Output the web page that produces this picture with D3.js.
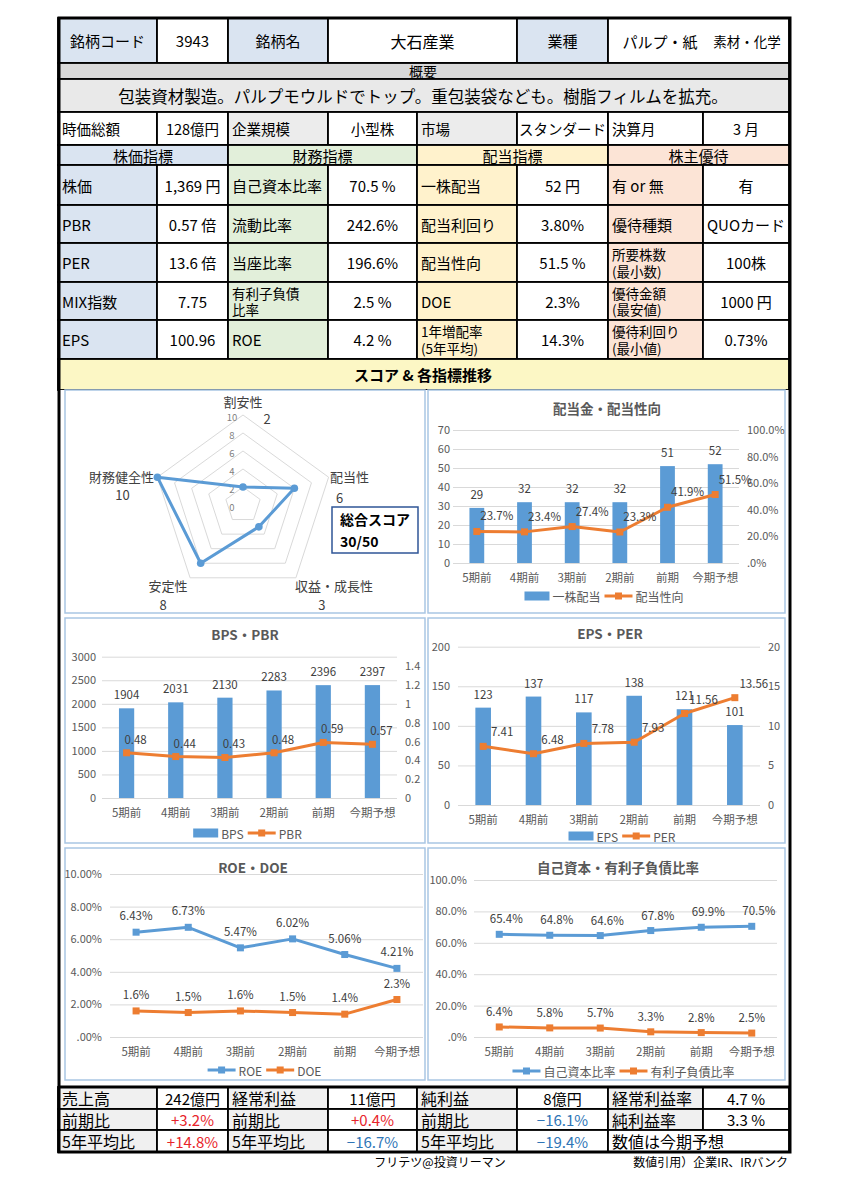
<!DOCTYPE html>
<html><head><meta charset="utf-8">
<script src="https://cdn.jsdelivr.net/npm/d3@7"></script>
<style>body{margin:0;background:#fff;} svg{display:block;font-family:"Noto Sans CJK JP","Noto Sans",sans-serif;}</style>
</head><body><svg id="c" width="861" height="1200"></svg>
<script>
// ---------------- DATA ----------------
const categories = ["5期前","4期前","3期前","2期前","前期","今期予想"];
const dividends = [29,32,32,32,51,52];
const payoutRatio = [0.237,0.234,0.274,0.233,0.419,0.515];
const bps = [1904,2031,2130,2283,2396,2397];
const pbr = [0.48,0.44,0.43,0.48,0.59,0.57];
const eps = [123,137,117,138,121,101];
const per = [7.41,6.48,7.78,7.93,11.56,13.56];
const roe = [6.43,6.73,5.47,6.02,5.06,4.21];
const doe = [1.6,1.5,1.6,1.5,1.4,2.3];
const equityRatio = [65.4,64.8,64.6,67.8,69.9,70.5];
const debtRatio = [6.4,5.8,5.7,3.3,2.8,2.5];

const radarAxes = ["割安性","配当性","収益・成長性","安定性","財務健全性"];
const radarScores = [2,6,3,8,10];
const radarTicks = [0,2,4,6,8,10];
const totalScore = 30;
const maxScore = 50;

const divTicks = [0,10,20,30,40,50,60,70];
const payoutTicks = [0,0.2,0.4,0.6,0.8,1.0];
const bpsTicks = [0,500,1000,1500,2000,2500,3000];
const pbrTicks = [0,0.2,0.4,0.6,0.8,1.0,1.2,1.4];
const epsTicks = [0,50,100,150,200];
const perTicks = [0,5,10,15,20];
const roeTicks = [0,2,4,6,8,10];
const equityTicks = [0,20,40,60,80,100];

const headerCells = ["銘柄コード","3943","銘柄名","大石産業","業種","パルプ・紙","素材・化学"];
const summaryTitle = "概要";
const summaryText = "包装資材製造。パルプモウルドでトップ。重包装袋なども。樹脂フィルムを拡充。";
const profileRow = ["時価総額","128億円","企業規模","小型株","市場","スタンダード","決算月","3 月"];
const sectionTitles = ["株価指標","財務指標","配当指標","株主優待"];
const priceLabels = ["株価","PBR","PER","MIX指数","EPS"];
const priceValues = ["1,369 円","0.57 倍","13.6 倍","7.75","100.96"];
const finLabels = ["自己資本比率","流動比率","当座比率","有利子負債\n比率","ROE"];
const finValues = ["70.5 %","242.6%","196.6%","2.5 %","4.2 %"];
const divLabels = ["一株配当","配当利回り","配当性向","DOE","1年増配率\n(5年平均)"];
const divValues = ["52 円","3.80%","51.5 %","2.3%","14.3%"];
const perkLabels = ["有 or 無","優待種類","所要株数\n(最小数)","優待金額\n(最安値)","優待利回り\n(最小値)"];
const perkValues = ["有","QUOカード","100株","1000 円","0.73%"];
const scoreBand = "スコア & 各指標推移";
const bottomLabels = [["売上高","経常利益","純利益","経常利益率"],["前期比","前期比","前期比","純利益率"],["5年平均比","5年平均比","5年平均比","数値は今期予想"]];
const bottomValues = [["242億円","11億円","8億円","4.7 %"],["+3.2%","+0.4%","−16.1%","3.3 %"],["+14.8%","−16.7%","−19.4%",""]];
const footerLeft = "フリテツ@投資リーマン";
const footerRight = "数値引用）企業IR、IRバンク";

// ---------------- DRAW ----------------
const FONT = '"Noto Sans CJK JP","Noto Sans",sans-serif';
const BLUE_BG="#dae4f1", GREEN_BG="#e2efda", YELLOW_BG="#fff2cc", PINK_BG="#fce4d6", GRAY_BG="#ececec";
const C_BLUE="#5b9bd5", C_ORANGE="#ed7d31";
const svg = d3.select("#c");
svg.append("rect").attr("width",861).attr("height",1200).attr("fill","#fff");

const COLS = [58,157,228,328,417,517,608,703,789];

function cell(x0,x1,y0,y1,o={}){
  const g = svg.append("g");
  g.append("rect").attr("x",x0).attr("y",y0).attr("width",x1-x0).attr("height",y1-y0)
    .attr("fill",o.fill||"#fff").attr("stroke","#000").attr("stroke-width",1.8);
  if(o.text===undefined||o.text==="") return g;
  const lines = String(o.text).split("\n");
  const size = o.size||15, lh = o.lh||15;
  const anchor = o.anchor||"middle";
  const tx = anchor==="start" ? x0+4 : (x0+x1)/2;
  const cy = (y0+y1)/2;
  lines.forEach((ln,i)=>{
    g.append("text").attr("text-anchor",anchor).attr("font-size",size)
      .attr("font-weight",o.weight||"normal").attr("fill",o.color||"#000").attr("font-family",FONT)
      .attr("x",o.tx!==undefined?o.tx:tx).attr("y",cy+(i-(lines.length-1)/2)*lh).attr("dominant-baseline","central").text(ln);
  });
  return g;
}

// header row
cell(COLS[0],COLS[1],18,63,{fill:BLUE_BG,text:headerCells[0]});
cell(COLS[1],COLS[2],18,63,{text:headerCells[1]});
cell(COLS[2],COLS[3],18,63,{fill:BLUE_BG,text:headerCells[2]});
cell(COLS[3],COLS[5],18,63,{text:headerCells[3],size:16});
cell(COLS[5],COLS[6],18,63,{fill:BLUE_BG,text:headerCells[4]});
cell(COLS[6],COLS[8],18,63,{});
svg.append("text").attr("x",660).attr("y",41).attr("dominant-baseline","central").attr("text-anchor","middle").attr("font-size",15).text(headerCells[5]);
svg.append("text").attr("x",747).attr("y",41).attr("dominant-baseline","central").attr("text-anchor","middle").attr("font-size",13.5).text(headerCells[6]);

cell(COLS[0],COLS[8],63,79,{fill:"#d9d9d9",text:summaryTitle,size:14,tx:423});
cell(COLS[0],COLS[8],79,112,{fill:"#e9e9e9",text:summaryText,size:16.5,tx:423});

// profile row
const profFills=["#fff","#fff",GRAY_BG,"#fff",GRAY_BG,"#fff","#fff","#fff"];
profileRow.forEach((t,i)=>{
  cell(COLS[i],COLS[i+1],112,145,{fill:profFills[i],text:t,anchor:i%2===0?"start":"middle",size:14.5});
});

// section headers
const secFills=[BLUE_BG,GREEN_BG,YELLOW_BG,PINK_BG];
sectionTitles.forEach((t,i)=>cell(COLS[i*2],COLS[i*2+2],145,165,{fill:secFills[i],text:t,size:15}));

// indicator rows
const ROWS=[165,205,243,282,320,359];
const groups=[[priceLabels,priceValues],[finLabels,finValues],[divLabels,divValues],[perkLabels,perkValues]];
groups.forEach((gp,gi)=>{
  gp[0].forEach((lab,r)=>{
    const multi = lab.includes("\n");
    cell(COLS[gi*2],COLS[gi*2+1],ROWS[r],ROWS[r+1],{fill:secFills[gi],text:lab,anchor:"start",size:multi?13.5:15,lh:16.5});
    cell(COLS[gi*2+1],COLS[gi*2+2],ROWS[r],ROWS[r+1],{text:gp[1][r],size:15});
  });
});

cell(COLS[0],COLS[8],359,390,{fill:"#fcf7c5",text:scoreBand,size:15,weight:"bold",tx:423});

// chart area background
svg.append("rect").attr("x",59).attr("y",390).attr("width",731).attr("height",697).attr("fill","#fff");

// ---------------- RADAR ----------------
(function(){
  const g = svg.append("g");
  g.append("rect").attr("x",65).attr("y",390).attr("width",360).attr("height",223).attr("fill","#fff").attr("stroke","#a9c6e3").attr("stroke-width",1.5);
  const cx=243, cy=505;
  const r = d3.scaleLinear().domain([0,10]).range([0,90]);
  const ang = i => i*2*Math.PI/radarAxes.length;
  const pt = (v,i)=>[cx+r(v)*Math.sin(ang(i)), cy-r(v)*Math.cos(ang(i))];
  radarTicks.filter(t=>t>0).forEach(t=>{
    g.append("path").attr("d",d3.line()(radarAxes.map((a,i)=>pt(t,i)))+"Z").attr("fill","none").attr("stroke","#d9d9d9").attr("stroke-width",1);
  });
  radarTicks.forEach(t=>{
    g.append("text").attr("x",cx-11).attr("y",cy-r(t)+2).attr("dominant-baseline","central").attr("text-anchor","middle")
      .attr("font-size",9.5).attr("fill","#7f7f7f").text(t);
  });
  const pts = radarScores.map((v,i)=>pt(v,i));
  g.append("path").attr("d",d3.line()(pts)+"Z").attr("fill","none").attr("stroke",C_BLUE).attr("stroke-width",3).attr("stroke-linejoin","round");
  g.selectAll(null).data(pts).join("circle").attr("cx",d=>d[0]).attr("cy",d=>d[1]).attr("r",3.8).attr("fill",C_BLUE);
  const nameOff=[[0,-14],[21,-1],[38,8],[-22,8],[-36,-1]];
  const valOff=[[24,3],[11,20],[26,27],[-27,27],[-35,17]];
  radarAxes.forEach((a,i)=>{
    const v = pt(10,i);
    g.append("text").attr("x",v[0]+nameOff[i][0]).attr("y",v[1]+nameOff[i][1]).attr("text-anchor","middle").attr("dominant-baseline","central")
      .attr("font-size",13).attr("fill","#404040").text(a);
    g.append("text").attr("x",v[0]+valOff[i][0]).attr("y",v[1]+valOff[i][1]).attr("text-anchor","middle").attr("dominant-baseline","central")
      .attr("font-size",13).attr("fill","#404040").text(radarScores[i]);
  });
  // total score box
  g.append("rect").attr("x",332).attr("y",507).attr("width",86).attr("height",46).attr("fill","#fff").attr("stroke","#2f5597").attr("stroke-width",1.5);
  g.append("text").attr("x",340).attr("y",525).attr("font-size",14).attr("font-weight","bold").attr("fill","#000").text("総合スコア");
  g.append("text").attr("x",340).attr("y",547).attr("font-size",14).attr("font-weight","bold").attr("fill","#000")
    .text(totalScore+"/"+maxScore);
})();

// ---------------- COMBO CHART ----------------
function chart(cfg){
  const g = svg.append("g");
  g.append("rect").attr("x",cfg.panel[0]).attr("y",cfg.panel[1]).attr("width",cfg.panel[2]).attr("height",cfg.panel[3])
    .attr("fill","#fff").attr("stroke","#a9c6e3").attr("stroke-width",1.5);
  g.append("text").attr("x",cfg.title[1]).attr("y",cfg.title[2]).attr("text-anchor","middle").attr("font-size",13.5)
    .attr("font-weight","bold").attr("fill","#595959").text(cfg.title[0]);
  const x = d3.scaleBand().domain(categories).range([cfg.x0,cfg.x1]);
  const cxf = i => x(categories[i])+x.bandwidth()/2;
  const yL = d3.scaleLinear().domain([cfg.left.ticks[0],cfg.left.ticks[cfg.left.ticks.length-1]]).range([cfg.yb,cfg.yt]);
  g.append("g").attr("transform",`translate(${cfg.x0},0)`)
    .call(d3.axisLeft(yL).tickValues(cfg.left.ticks).tickSize(-(cfg.x1-cfg.x0)).tickFormat(""))
    .call(a=>{a.select(".domain").remove(); a.selectAll("line").attr("stroke","#d9d9d9").attr("stroke-width",1);});
  g.append("g").attr("transform",`translate(${cfg.left.labelX},0)`)
    .call(d3.axisLeft(yL).tickValues(cfg.left.ticks).tickSize(0).tickPadding(0).tickFormat(cfg.left.fmt))
    .call(a=>{a.select(".domain").remove(); a.attr("font-family",FONT).attr("font-size",11); a.selectAll("text").attr("fill","#595959");});
  let yR=null;
  if(cfg.right){
    yR = d3.scaleLinear().domain(cfg.right.domain).range([cfg.yb,cfg.yt]);
    g.append("g").attr("transform",`translate(${cfg.right.labelX},0)`)
      .call(d3.axisRight(yR).tickValues(cfg.right.ticks).tickSize(0).tickPadding(0).tickFormat(cfg.right.fmt))
      .call(a=>{a.select(".domain").remove(); a.attr("font-family",FONT).attr("font-size",11); a.selectAll("text").attr("fill","#595959");});
  }
  if(cfg.bars){
    const bw = x.bandwidth()*0.31;
    g.selectAll(null).data(cfg.bars.values).join("rect")
      .attr("x",(d,i)=>cxf(i)-bw/2).attr("y",d=>yL(d)).attr("width",bw).attr("height",d=>cfg.yb-yL(d)).attr("fill",C_BLUE);
    g.selectAll(null).data(cfg.bars.values).join("text")
      .attr("x",(d,i)=>cxf(i)).attr("y",d=>yL(d)-9).attr("text-anchor","middle").attr("font-size",11.5).attr("fill","#404040").text(d=>d);
  }
  cfg.lines.forEach(l=>{
    const ys = l.axis==="R"?yR:yL;
    const pts = l.values.map((v,i)=>[cxf(i),ys(v)]);
    g.append("path").attr("d",d3.line()(pts)).attr("fill","none").attr("stroke",l.color).attr("stroke-width",3).attr("stroke-linejoin","round");
    g.selectAll(null).data(pts).join("rect").attr("x",p=>p[0]-3.5).attr("y",p=>p[1]-3.5).attr("width",7).attr("height",7).attr("fill",l.color);
    g.selectAll(null).data(l.values).join("text")
      .attr("x",(d,i)=>pts[i][0]+l.lx).attr("y",(d,i)=>pts[i][1]+l.ly).attr("text-anchor","middle")
      .attr("font-size",11.5).attr("fill","#404040").text(l.fmt);
  });
  g.selectAll(null).data(categories).join("text")
    .attr("x",(d,i)=>cxf(i)).attr("y",cfg.yb+19).attr("text-anchor","middle").attr("font-size",11.5).attr("fill","#595959").text(d=>d);
  // legend
  const lg = g.append("g");
  let cur=0;
  cfg.legend.forEach(it=>{
    if(it.type==="bar"){
      lg.append("rect").attr("x",cur).attr("y",-4.5).attr("width",25).attr("height",9).attr("fill",it.color);
    } else {
      lg.append("line").attr("x1",cur).attr("x2",cur+28).attr("y1",0).attr("y2",0).attr("stroke",it.color).attr("stroke-width",3);
      lg.append("rect").attr("x",cur+10.5).attr("y",-3.5).attr("width",7).attr("height",7).attr("fill",it.color);
    }
    cur += (it.type==="bar"?25:28)+3;
    const t = lg.append("text").attr("x",cur).attr("y",0).attr("dominant-baseline","central").attr("font-size",12).attr("fill","#595959").text(it.label);
    cur += t.node().getComputedTextLength()+4;
  });
  lg.attr("transform",`translate(${(cfg.x0+cfg.x1)/2 - cur/2 + (cfg.legendDx||0)},${cfg.legendY})`);
}

const pctFmt1 = d => d===0 ? ".0%" : d.toFixed(1)+"%";

chart({panel:[428,390,357,223], title:["配当金・配当性向",607,414], x0:453, x1:739, yb:563, yt:430,
  left:{ticks:divTicks, fmt:d=>d, labelX:450},
  right:{domain:[0,1], ticks:payoutTicks, fmt:d=>pctFmt1(d*100), labelX:747},
  bars:{values:dividends},
  lines:[{values:payoutRatio, axis:"R", color:C_ORANGE, fmt:d=>(d*100).toFixed(1)+"%", lx:20, ly:-11}],
  legend:[{type:"bar",color:C_BLUE,label:"一株配当"},{type:"line",color:C_ORANGE,label:"配当性向"}], legendY:596, legendDx:10});

chart({panel:[65,618,360,225], title:["BPS・PBR",245,640], x0:102, x1:397, yb:798, yt:656.7,
  left:{ticks:bpsTicks, fmt:d=>d, labelX:96},
  right:{domain:[0,1.5], ticks:pbrTicks, fmt:d=>String(+d.toFixed(1)), labelX:405},
  bars:{values:bps},
  lines:[{values:pbr, axis:"R", color:C_ORANGE, fmt:d=>d.toFixed(2), lx:9, ly:-9}],
  legend:[{type:"bar",color:C_BLUE,label:"BPS"},{type:"line",color:C_ORANGE,label:"PBR"}], legendY:833});

chart({panel:[428,618,357,225], title:["EPS・PER",610,639], x0:458, x1:760, yb:805, yt:646.7,
  left:{ticks:epsTicks, fmt:d=>d, labelX:450},
  right:{domain:[0,20], ticks:perTicks, fmt:d=>d, labelX:768},
  bars:{values:eps},
  lines:[{values:per, axis:"R", color:C_ORANGE, fmt:d=>d.toFixed(2), lx:19, ly:-10}],
  legend:[{type:"bar",color:C_BLUE,label:"EPS"},{type:"line",color:C_ORANGE,label:"PER"}], legendY:836, legendDx:15});

chart({panel:[65,848,360,232], title:["ROE・DOE",253,873], x0:110, x1:423, yb:1037, yt:874,
  left:{ticks:roeTicks, fmt:d=>d===0?".00%":d.toFixed(2)+"%", labelX:102},
  lines:[{values:roe, color:C_BLUE, fmt:d=>d.toFixed(2)+"%", lx:0, ly:-12},
         {values:doe, color:C_ORANGE, fmt:d=>d.toFixed(1)+"%", lx:0, ly:-12}],
  legend:[{type:"line",color:C_BLUE,label:"ROE"},{type:"line",color:C_ORANGE,label:"DOE"}], legendY:1070});

chart({panel:[428,848,357,232], title:["自己資本・有利子負債比率",618,873], x0:474, x1:777, yb:1037, yt:880,
  left:{ticks:equityTicks, fmt:pctFmt1, labelX:467},
  lines:[{values:equityRatio, color:C_BLUE, fmt:d=>d.toFixed(1)+"%", lx:7, ly:-11},
         {values:debtRatio, color:C_ORANGE, fmt:d=>d.toFixed(1)+"%", lx:0, ly:-11}],
  legend:[{type:"line",color:C_BLUE,label:"自己資本比率"},{type:"line",color:C_ORANGE,label:"有利子負債比率"}], legendY:1071});

// ---------------- BOTTOM TABLE ----------------
const BROWS=[1087,1109,1130,1152];
bottomLabels.forEach((row,r)=>{
  row.forEach((lab,c)=>{
    const val = bottomValues[r][c];
    if(val===""){
      cell(COLS[c*2],COLS[c*2+2],BROWS[r],BROWS[r+1],{fill:"#fff",text:lab,anchor:"start",size:16});
      return;
    }
    cell(COLS[c*2],COLS[c*2+1],BROWS[r],BROWS[r+1],{fill:"#f0f0f0",text:lab,anchor:"start",size:16});
    const col = val.startsWith("+")?"#e8242a":(val.startsWith("−")?"#2e75b6":"#000");
    cell(COLS[c*2+1],COLS[c*2+2],BROWS[r],BROWS[r+1],{fill:"#fff",text:val,size:15,color:col});
  });
});

// outer frame
svg.append("rect").attr("x",59).attr("y",18).attr("width",731).attr("height",1134).attr("fill","none").attr("stroke","#000").attr("stroke-width",3);
svg.append("line").attr("x1",59).attr("x2",790).attr("y1",1087).attr("y2",1087).attr("stroke","#000").attr("stroke-width",3);

svg.append("text").attr("x",440).attr("y",1167).attr("text-anchor","middle").attr("font-size",12).attr("fill","#000").text(footerLeft);
svg.append("text").attr("x",788).attr("y",1167).attr("text-anchor","end").attr("font-size",12).attr("fill","#000").text(footerRight);
</script></body></html>
